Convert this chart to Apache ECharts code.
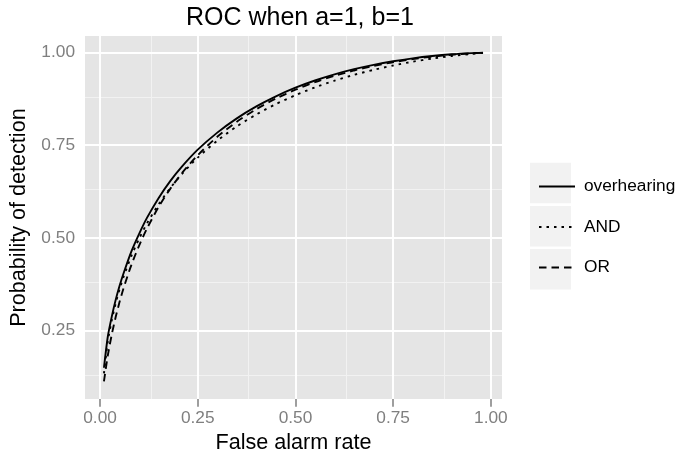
<!DOCTYPE html>
<html>
<head>
<meta charset="utf-8">
<script src="https://cdn.jsdelivr.net/npm/echarts@6/dist/echarts.min.js"></script>
<style>html,body{margin:0;padding:0;background:#fff}#c{width:675px;height:459px}</style>
</head>
<body>
<div id="c"></div>
<script>
const falseAlarm = [0.01,0.02,0.03,0.04,0.05,0.06,0.08,0.10,0.12,0.15,0.18,0.21,0.25,0.30,0.35,0.40,0.45,0.50,0.55,0.60,0.65,0.70,0.75,0.80,0.85,0.90,0.95,0.98];
const overhearing = [0.150,0.235,0.288,0.333,0.371,0.404,0.463,0.511,0.554,0.608,0.654,0.693,0.738,0.784,0.8225,0.8547,0.8818,0.905,0.9245,0.941,0.955,0.9667,0.9764,0.9843,0.9905,0.9952,0.9984,0.9996];
const andRule = [0.135,0.222,0.278,0.3238,0.3617,0.3947,0.451,0.498,0.539,0.591,0.635,0.673,0.7167,0.7624,0.8007,0.833,0.861,0.8849,0.906,0.924,0.9397,0.9533,0.965,0.9752,0.9837,0.9907,0.9962,0.9988];
const orRule = [0.1135,0.1839,0.2398,0.2867,0.3277,0.3641,0.4269,0.4795,0.5254,0.5839,0.633,0.6753,0.7231,0.7727,0.8134,0.8473,0.8757,0.8997,0.9201,0.9371,0.9516,0.9637,0.9738,0.9822,0.9888,0.9940,0.9978,0.9993];
const seriesNames = ['overhearing','AND','OR'];
const majorTicks = [0, 0.25, 0.5, 0.75, 1.0];
const xMinor = [0.125, 0.375, 0.625, 0.875];
const yMinor = [0.125, 0.375, 0.625, 0.875];

const FONT = '"Liberation Sans", Arial, sans-serif';
const pts = ys => falseAlarm.map((x, i) => [x, ys[i]]);
const chart = echarts.init(document.getElementById('c'), null, {renderer: 'canvas'});

const gridLines = [];
xMinor.forEach(v => gridLines.push({xAxis: v, lineStyle: {color: '#F2F2F2', width: 1, type: 'solid'}}));
yMinor.forEach(v => gridLines.push({yAxis: v, lineStyle: {color: '#F2F2F2', width: 1, type: 'solid'}}));
majorTicks.forEach(v => gridLines.push({xAxis: v, lineStyle: {color: '#FFFFFF', width: 1.9, type: 'solid'}}));
majorTicks.forEach(v => gridLines.push({yAxis: v, lineStyle: {color: '#FFFFFF', width: 1.9, type: 'solid'}}));

const lineSeries = (name, ys, type) => ({
  name, type: 'line', data: pts(ys), smooth: 0.25, showSymbol: false, symbol: 'none', z: 10,
  lineStyle: {color: '#000', width: 1.9, type},
  itemStyle: {color: '#000'}, emphasis: {disabled: true}
});

const keyRect = (y) => ({type: 'rect', shape: {x: 530, y, width: 41, height: 40.5}, style: {fill: '#F2F2F2'}, z: -1});

chart.setOption({
  animation: false,
  backgroundColor: '#fff',
  title: {text: 'ROC when a=1, b=1', left: 181, top: 1,
    textStyle: {fontFamily: FONT, fontSize: 25, fontWeight: 'normal', color: '#000'}},
  grid: {left: 85, top: 36, width: 417, height: 370, show: true, backgroundColor: '#E5E5E5', borderWidth: 0, containLabel: false},
  xAxis: {type: 'value', min: -0.0385, max: 1.0285,
    name: 'False alarm rate', nameLocation: 'middle', nameGap: 30,
    nameTextStyle: {fontFamily: FONT, fontSize: 21.6, color: '#000', verticalAlign: 'top'},
    axisLine: {show: false}, splitLine: {show: false},
    axisTick: {show: true, length: 7.6, customValues: majorTicks, lineStyle: {color: '#7F7F7F', width: 1.5}},
    axisLabel: {customValues: majorTicks, margin: 11, fontFamily: FONT, fontSize: 17.3, color: '#7F7F7F', formatter: v => v.toFixed(2)}},
  yAxis: {type: 'value', min: 0.0655, max: 1.0445,
    name: 'Probability of detection', nameLocation: 'middle', nameGap: 54, nameRotate: 90,
    nameTextStyle: {fontFamily: FONT, fontSize: 21.6, color: '#000'},
    axisLine: {show: false}, splitLine: {show: false},
    axisTick: {show: true, length: 7.6, customValues: majorTicks, lineStyle: {color: '#7F7F7F', width: 1.5}},
    axisLabel: {customValues: majorTicks, margin: 10, fontFamily: FONT, fontSize: 17.3, color: '#7F7F7F', formatter: v => v.toFixed(2)}},
  legend: {orient: 'vertical', left: 533, top: 173, itemWidth: 36, itemHeight: 20, itemGap: 23.5,
    data: seriesNames, selectedMode: false,
    itemStyle: {opacity: 0, borderWidth: 0},
    textStyle: {fontFamily: FONT, fontSize: 17.3, color: '#000', padding: [0, 0, 0, 4]}},
  graphic: [keyRect(162.7), keyRect(206), keyRect(249)],
  series: [
    {type: 'line', name: '_grid', data: [], z: 1, silent: true,
      markLine: {z: 1, silent: true, symbol: 'none', label: {show: false}, animation: false, data: gridLines}},
    lineSeries(seriesNames[0], overhearing, 'solid'),
    lineSeries(seriesNames[1], andRule, [2.5, 5]),
    lineSeries(seriesNames[2], orRule, [7.5, 5])
  ]
});
</script>
</body>
</html>
